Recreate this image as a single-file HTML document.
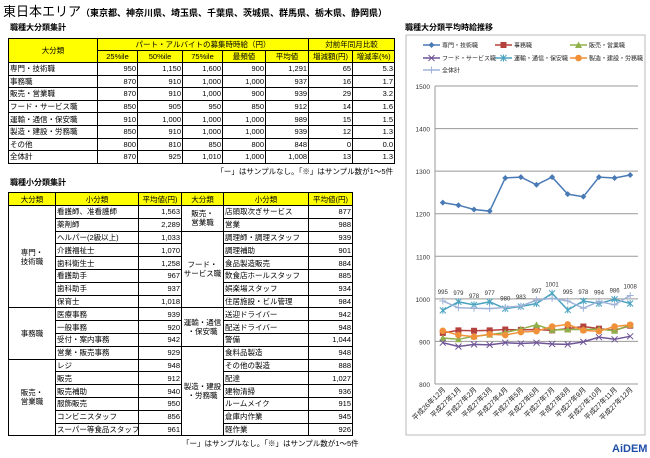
<!DOCTYPE html>
<html><head><meta charset="utf-8">
<style>
body{margin:0;width:650px;height:458px;background:#fff;position:relative;overflow:hidden;font-family:"Liberation Sans","Noto Sans CJK JP",sans-serif;color:#000}
.abs{position:absolute}
table{border-collapse:collapse;table-layout:fixed;position:absolute;font-size:7.5px}
td{border:1px solid #000;padding:0 1px;white-space:nowrap;overflow:hidden;line-height:9px}
.h{background:#ffff00;text-align:center}
.n{text-align:right}
.c{text-align:center}
</style></head><body>
<div class="abs" style="left:3px;top:1px;font-size:12px;"><span style="font-size:13px">東日本エリア</span><span style="font-size:9px;font-weight:bold">（東京都、神奈川県、埼玉県、千葉県、茨城県、群馬県、栃木県、静岡県）</span></div>
<div class="abs" style="left:10px;top:22px;font-size:8px;font-weight:bold">職種大分類集計</div>
<table style="left:8px;top:38px;width:386px">
<colgroup><col style="width:89px"><col style="width:40px"><col style="width:45px"><col style="width:40px"><col style="width:43px"><col style="width:43px"><col style="width:44px"><col style="width:42px"></colgroup>
<tr style="height:12px"><td class="h" rowspan="2">大分類</td><td class="h" colspan="5">パート・アルバイトの募集時時給（円）</td><td class="h" colspan="2">対前年同月比較</td></tr>
<tr style="height:12px"><td class="h">25%ile</td><td class="h">50%ile</td><td class="h">75%ile</td><td class="h">最頻値</td><td class="h">平均値</td><td class="h">増減額(円)</td><td class="h">増減率(%)</td></tr>
<tr style="height:12.6px"><td>専門・技術職</td><td class="n">950</td><td class="n">1,150</td><td class="n">1,600</td><td class="n">900</td><td class="n">1,291</td><td class="n">65</td><td class="n">5.3</td></tr>
<tr style="height:12.6px"><td>事務職</td><td class="n">870</td><td class="n">910</td><td class="n">1,000</td><td class="n">1,000</td><td class="n">937</td><td class="n">16</td><td class="n">1.7</td></tr>
<tr style="height:12.6px"><td>販売・営業職</td><td class="n">870</td><td class="n">910</td><td class="n">1,000</td><td class="n">900</td><td class="n">939</td><td class="n">29</td><td class="n">3.2</td></tr>
<tr style="height:12.6px"><td>フード・サービス職</td><td class="n">850</td><td class="n">905</td><td class="n">950</td><td class="n">850</td><td class="n">912</td><td class="n">14</td><td class="n">1.6</td></tr>
<tr style="height:12.6px"><td>運輸・通信・保安職</td><td class="n">910</td><td class="n">1,000</td><td class="n">1,000</td><td class="n">1,000</td><td class="n">989</td><td class="n">15</td><td class="n">1.5</td></tr>
<tr style="height:12.6px"><td>製造・建設・労務職</td><td class="n">850</td><td class="n">910</td><td class="n">1,000</td><td class="n">1,000</td><td class="n">939</td><td class="n">12</td><td class="n">1.3</td></tr>
<tr style="height:12.6px"><td>その他</td><td class="n">800</td><td class="n">810</td><td class="n">850</td><td class="n">800</td><td class="n">848</td><td class="n">0</td><td class="n">0.0</td></tr>
<tr style="height:12.6px"><td>全体計</td><td class="n">870</td><td class="n">925</td><td class="n">1,010</td><td class="n">1,000</td><td class="n">1,008</td><td class="n">13</td><td class="n">1.3</td></tr>
</table>
<div class="abs" style="right:257px;top:166px;font-size:7.5px">「ー」はサンプルなし。「※」はサンプル数が1～5件</div>
<div class="abs" style="left:10px;top:177px;font-size:8px;font-weight:bold">職種小分類集計</div>
<table style="left:8px;top:192px;width:344px">
<colgroup><col style="width:47px"><col style="width:83px"><col style="width:43px"><col style="width:42px"><col style="width:85px"><col style="width:44px"></colgroup>
<tr style="height:13px"><td class="h">大分類</td><td class="h">小分類</td><td class="h">平均値(円)</td><td class="h">大分類</td><td class="h">小分類</td><td class="h">平均値(円)</td></tr>
<tr style="height:12.8px"><td class="c" rowspan="8">専門・<br>技術職</td><td>看護師、准看護師</td><td class="n">1,563</td><td class="c" rowspan="2">販売・<br>営業職</td><td>店頭取次ぎサービス</td><td class="n">877</td></tr>
<tr style="height:12.8px"><td>薬剤師</td><td class="n">2,289</td><td>営業</td><td class="n">988</td></tr>
<tr style="height:12.8px"><td>ヘルパー(2級以上)</td><td class="n">1,033</td><td class="c" rowspan="6">フード・<br>サービス職</td><td>調理師・調理スタッフ</td><td class="n">939</td></tr>
<tr style="height:12.8px"><td>介護福祉士</td><td class="n">1,070</td><td>調理補助</td><td class="n">901</td></tr>
<tr style="height:12.8px"><td>歯科衛生士</td><td class="n">1,258</td><td>食品製造販売</td><td class="n">884</td></tr>
<tr style="height:12.8px"><td>看護助手</td><td class="n">967</td><td>飲食店ホールスタッフ</td><td class="n">885</td></tr>
<tr style="height:12.8px"><td>歯科助手</td><td class="n">937</td><td>娯楽場スタッフ</td><td class="n">934</td></tr>
<tr style="height:12.8px"><td>保育士</td><td class="n">1,018</td><td>住居施設・ビル管理</td><td class="n">984</td></tr>
<tr style="height:12.8px"><td class="c" rowspan="4">事務職</td><td>医療事務</td><td class="n">939</td><td class="c" rowspan="3">運輸・通信<br>・保安職</td><td>送迎ドライバー</td><td class="n">942</td></tr>
<tr style="height:12.8px"><td>一般事務</td><td class="n">920</td><td>配送ドライバー</td><td class="n">948</td></tr>
<tr style="height:12.8px"><td>受付・案内事務</td><td class="n">942</td><td>警備</td><td class="n">1,044</td></tr>
<tr style="height:12.8px"><td>営業・販売事務</td><td class="n">929</td><td class="c" rowspan="7">製造・建設<br>・労務職</td><td>食料品製造</td><td class="n">948</td></tr>
<tr style="height:12.8px"><td class="c" rowspan="6">販売・<br>営業職</td><td>レジ</td><td class="n">948</td><td>その他の製造</td><td class="n">888</td></tr>
<tr style="height:12.8px"><td>販売</td><td class="n">912</td><td>配達</td><td class="n">1,027</td></tr>
<tr style="height:12.8px"><td>販売補助</td><td class="n">940</td><td>建物清掃</td><td class="n">936</td></tr>
<tr style="height:12.8px"><td>服飾販売</td><td class="n">950</td><td>ルームメイク</td><td class="n">915</td></tr>
<tr style="height:12.8px"><td>コンビニスタッフ</td><td class="n">856</td><td>倉庫内作業</td><td class="n">945</td></tr>
<tr style="height:12.8px"><td>スーパー等食品スタッフ</td><td class="n">961</td><td>軽作業</td><td class="n">926</td></tr>
</table>
<div class="abs" style="left:182px;top:438px;font-size:7.5px">「ー」はサンプルなし。「※」はサンプル数が1～5件</div>
<div class="abs" style="left:405px;top:22px;font-size:8px;font-weight:bold">職種大分類平均時給推移</div>
<svg class="abs" id="chart" style="left:0;top:0" width="650" height="458"></svg>
<div class="abs" style="left:612px;top:443px;font-size:11px;font-weight:bold;color:#1f4ea8">AiDEM</div>
<script>
const categories=["平成26年12月","平成27年1月","平成27年2月","平成27年3月","平成27年4月","平成27年5月","平成27年6月","平成27年7月","平成27年8月","平成27年9月","平成27年10月","平成27年11月","平成27年12月"];
const yTicks=[800,900,1000,1100,1200,1300,1400,1500];
const seriesNames=["専門・技術職","事務職","販売・営業職","フード・サービス職","運輸・通信・保安職","製造・建設・労務職","全体計"];
const sSenmon=[1226,1220,1210,1206,1284,1286,1268,1286,1246,1240,1286,1284,1291];
const sJimu=[920,926,925,926,928,927,928,926,930,935,930,926,937];
const sHanbai=[908,905,912,916,921,929,939,927,928,928,929,925,939];
const sFood=[897,888,893,892,897,895,897,894,893,899,910,905,912];
const sUnyu=[973,993,986,993,977,982,989,1013,974,995,989,999,989];
const sSeizo=[925,915,911,917,915,922,924,935,940,926,924,935,939];
const sTotal=[995,979,978,977,980,983,997,1001,995,978,994,986,1008];
const colors=["#4a7ab5","#b5413d","#8fb04a","#6f5597","#4aa3c0","#f0913a","#9fb3d8"];
const markers=["diamond","square","triangle","x","star","circle","plus"];
const all=[sSenmon,sJimu,sHanbai,sFood,sUnyu,sSeizo,sTotal];
const svg=document.getElementById('chart');const NS="http://www.w3.org/2000/svg";
const X0=435,X1=638,Y0=384,Y1=86,ymin=800,ymax=1500;
const step=(X1-X0)/categories.length;
const xs=i=>X0+step*(i+0.5);
const ys=v=>Y0-(v-ymin)/(ymax-ymin)*(Y0-Y1);
function mk(t,a,p){const e=document.createElementNS(NS,t);for(const k in a)e.setAttribute(k,a[k]);(p||svg).appendChild(e);return e;}
const frame=mk('rect',{x:406,y:35,width:239,height:400,fill:'#fff',stroke:'#bbb'});


yTicks.forEach(t=>{const g=mk('line',{x1:X0,x2:X1,y1:ys(t),y2:ys(t),stroke:'#999','stroke-width':1});


const l=mk('text',{x:X0-5,y:ys(t)+3,'text-anchor':'end','font-size':6.5,fill:'#333'});l.textContent=t;

});
mk('line',{x1:X0,x2:X0,y1:Y1,y2:Y0,stroke:'#999'});
categories.forEach((c,i)=>{const x=xs(i);const t=mk('text',{x:x+3,y:Y0+6,'text-anchor':'end','font-size':7,fill:'#222',transform:`rotate(-45 ${x+3} ${Y0+6})`});t.textContent=c;

});
function marker(type,x,y,col,g){
 if(type==='diamond')mk('path',{d:`M${x} ${y-3}L${x+3} ${y}L${x} ${y+3}L${x-3} ${y}Z`,fill:col},g);
 else if(type==='square')mk('rect',{x:x-3,y:y-3,width:6,height:6,fill:col},g);
 else if(type==='triangle')mk('path',{d:`M${x} ${y-3.5}L${x+3.5} ${y+3}L${x-3.5} ${y+3}Z`,fill:col},g);
 else if(type==='circle')mk('circle',{cx:x,cy:y,r:3.3,fill:col},g);
 else if(type==='x')mk('path',{d:`M${x-3} ${y-3}L${x+3} ${y+3}M${x-3} ${y+3}L${x+3} ${y-3}`,stroke:col,'stroke-width':1},g);
 else if(type==='star')mk('path',{d:`M${x-3} ${y-3}L${x+3} ${y+3}M${x-3} ${y+3}L${x+3} ${y-3}M${x} ${y-3.5}L${x} ${y+3.5}`,stroke:col,'stroke-width':1},g);
 else mk('path',{d:`M${x-3.5} ${y}L${x+3.5} ${y}M${x} ${y-3.5}L${x} ${y+3.5}`,stroke:col,'stroke-width':1},g);
}
all.forEach((s,k)=>{const g=mk('g',{});


mk('polyline',{points:s.map((v,i)=>xs(i)+','+ys(v)).join(' '),fill:'none',stroke:colors[k],'stroke-width':1.5},g);
s.forEach((v,i)=>marker(markers[k],xs(i),ys(v),colors[k],g));});
sTotal.forEach((v,i)=>{const t=mk('text',{x:xs(i),y:ys(Math.max(v,sUnyu[i]))-7,'text-anchor':'middle','font-size':6,fill:'#333'});t.textContent=v;

});
const lx=[423,495,570],ly=[45,58,70];
seriesNames.forEach((n,k)=>{const x=lx[k%3],y=ly[Math.floor(k/3)];const g=mk('g',{});


mk('line',{x1:x,x2:x+17,y1:y,y2:y,stroke:colors[k],'stroke-width':1.5},g);marker(markers[k],x+8.5,y,colors[k],g);
const t=mk('text',{x:x+19,y:y+2.5,'font-size':6,fill:'#222'},g);t.textContent=n;});
</script>
</body></html>
